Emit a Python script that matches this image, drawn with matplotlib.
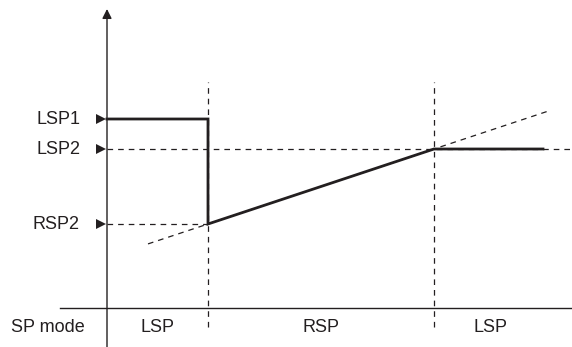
import numpy as np
import matplotlib.pyplot as plt

plt.rcParams['font.family'] = ['Liberation Sans', 'DejaVu Sans']

# setpoint levels (arbitrary units above the time axis)
level_names = ['LSP1', 'LSP2', 'RSP2']
level_values = [189, 159, 84]
LSP1, LSP2, RSP2 = level_values

# mode switch times and end of trace
t_switch = [101, 327]
t_end = 436
t_axis_end = 440
modes = ['LSP', 'RSP', 'LSP']

# remote setpoint ramp (dashed reference), extends past the RSP window
ramp_t = [41, 441]

ink = '#231f20'

fig = plt.figure(figsize=(5.72, 3.47), dpi=100)
ax = fig.add_axes([0, 0, 1, 1])
ax.set_xlim(-107, 465)
ax.set_ylim(-39, 308)
ax.axis('off')

dash = dict(color=ink, lw=0.9, dashes=(4.5, 4))

# axes
ax.plot([-47, 465], [0, 0], color=ink, lw=1.0)
ax.annotate('', xy=(0, 299), xytext=(0, -39),
            arrowprops=dict(arrowstyle='-|>', color=ink, lw=1.0,
                            mutation_scale=14, shrinkA=0, shrinkB=0))

# vertical mode boundaries
for t in t_switch:
    ax.plot([t, t], [-19, 226], **dash)

# horizontal guide lines
ax.plot([0, 465], [LSP2, LSP2], **dash)
ax.plot([0, t_switch[0]], [RSP2, RSP2], **dash)

# ramp through (t1, RSP2) and (t2, LSP2)
slope = (LSP2 - RSP2) / (t_switch[1] - t_switch[0])
ramp_y = [RSP2 + slope * (t - t_switch[0]) for t in ramp_t]
ax.plot(ramp_t, ramp_y, **dash)

# actual setpoint trace
sp_t = [0, t_switch[0], t_switch[0], t_switch[1], t_end]
sp_y = [LSP1, LSP1, RSP2, LSP2, LSP2]
ax.plot(sp_t, sp_y, color=ink, lw=2.0, solid_joinstyle='miter')

# level markers and labels
for name, val in zip(level_names, level_values):
    ax.plot(-6, val, marker='>', color=ink, ms=6.5, mew=0)
    ax.text(-27, val, name, ha='right', va='center', fontsize=13, color=ink)

# mode labels
bounds = [0] + t_switch + [t_axis_end]
for i, m in enumerate(modes):
    ax.text((bounds[i] + bounds[i + 1]) / 2, -19, m, ha='center', va='center',
            fontsize=13, color=ink)
ax.text(-96, -19, 'SP mode', ha='left', va='center', fontsize=13, color=ink)

fig.savefig('out.png', dpi=100)
